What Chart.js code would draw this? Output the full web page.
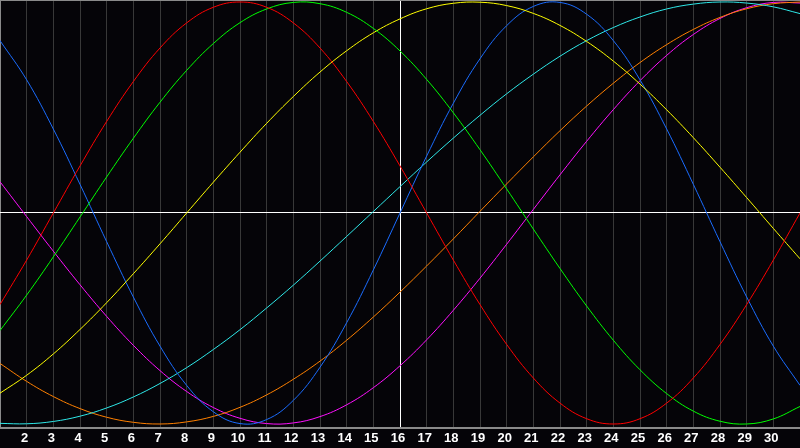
<!DOCTYPE html>
<html>
<head>
<meta charset="utf-8">
<script src="https://cdn.jsdelivr.net/npm/chart.js@4/dist/chart.umd.min.js"></script>
<style>
  html, body { margin: 0; padding: 0; background: #050408; }
  #wrap { width: 800px; height: 448px; position: relative; }
</style>
</head>
<body>
<div id="wrap"><canvas id="c"></canvas></div>
<script>
const days = [1,2,3,4,5,6,7,8,9,10,11,12,13,14,15,16,17,18,19,20,21,22,23,24,25,26,27,28,29,30,31];
const today = 16;

const redValues = [-0.434,-0.223,0,0.223,0.434,0.623,0.782,0.901,0.975,1,0.975,0.901,0.782,0.623,0.434,0.223,0,-0.223,-0.434,-0.623,-0.782,-0.901,-0.975,-1,-0.975,-0.901,-0.782,-0.623,-0.434,-0.223,0];
const greenValues = [-0.557,-0.389,-0.208,-0.019,0.171,0.354,0.525,0.676,0.803,0.902,0.967,0.998,0.992,0.951,0.875,0.768,0.633,0.475,0.300,0.114,-0.076,-0.263,-0.441,-0.603,-0.743,-0.856,-0.939,-0.987,-1.000,-0.976,-0.917];
const yellowValues = [-0.854,-0.769,-0.668,-0.552,-0.425,-0.288,-0.146,0,0.146,0.288,0.425,0.552,0.668,0.769,0.854,0.920,0.968,0.994,0.999,0.983,0.946,0.889,0.813,0.720,0.611,0.489,0.357,0.217,0.073,-0.073,-0.217];
const blueValues = [0.817,0.631,0.398,0.136,-0.136,-0.398,-0.631,-0.817,-0.942,-0.998,-0.979,-0.888,-0.731,-0.520,-0.270,0,0.270,0.520,0.731,0.888,0.979,0.998,0.942,0.817,0.631,0.398,0.136,-0.136,-0.398,-0.631,-0.817];
const cyanValues = [-0.997,-0.999,-0.988,-0.963,-0.924,-0.872,-0.808,-0.733,-0.647,-0.553,-0.450,-0.342,-0.228,-0.111,0.007,0.125,0.242,0.355,0.463,0.565,0.658,0.743,0.817,0.879,0.929,0.967,0.990,1.000,0.995,0.977,0.945];
const orangeValues = [-0.713,-0.798,-0.870,-0.927,-0.968,-0.992,-1.000,-0.990,-0.964,-0.921,-0.862,-0.788,-0.702,-0.603,-0.493,-0.375,-0.251,-0.123,0.008,0.138,0.266,0.390,0.507,0.615,0.713,0.798,0.870,0.927,0.968,0.992,1.000];
const magentaValues = [0.148,-0.017,-0.181,-0.340,-0.490,-0.627,-0.747,-0.846,-0.922,-0.973,-0.998,-0.995,-0.965,-0.909,-0.828,-0.724,-0.601,-0.461,-0.309,-0.148,0.017,0.181,0.340,0.490,0.627,0.747,0.846,0.922,0.973,0.998,0.995];

const seriesNames = ['red','green','yellow','blue','cyan','orange','magenta'];
const seriesColors = ['#ff0000','#00ff00','#ffff00','#1a6cff','#2ee8e8','#ff8000','#ff10ff'];
const seriesValues = [redValues, greenValues, yellowValues, blueValues, cyanValues, orangeValues, magentaValues];

const datasets = seriesValues.map((vals, i) => ({
  label: seriesNames[i],
  data: days.map((d, j) => ({ x: d, y: vals[j] })),
  borderColor: seriesColors[i],
  borderWidth: 1,
  pointRadius: 0,
  tension: 0.4,
  fill: false
}));

const bgPlugin = {
  id: 'bg',
  beforeDraw(chart) {
    const ctx = chart.ctx;
    ctx.save();
    ctx.fillStyle = '#050408';
    ctx.fillRect(0, 0, chart.width, chart.height);
    ctx.restore();
  }
};

new Chart(document.getElementById('c'), {
  type: 'line',
  data: { datasets },
  plugins: [bgPlugin],
  options: {
    responsive: true,
    maintainAspectRatio: false,
    animation: false,
    layout: { padding: 0 },
    plugins: { legend: { display: false }, tooltip: { enabled: false } },
    scales: {
      x: {
        type: 'linear',
        min: days[0],
        max: days[days.length - 1],
        border: { display: true, color: '#8a8a8a', width: 2 },
        grid: {
          drawTicks: false,
          lineWidth: 1,
          color: (c) => c.tick && c.tick.value === today ? '#ffffff' : (c.tick && c.tick.value === days[0] ? '#8a8a8a' : '#383838')
        },
        afterBuildTicks: (axis) => { axis.ticks = days.map(d => ({ value: d })); },
        afterFit: (axis) => { axis.height = 20; axis.paddingLeft = 0; axis.paddingRight = 0; },
        ticks: {
          autoSkip: false,
          maxRotation: 0,
          padding: 3,
          labelOffset: -2,
          color: '#ffffff',
          font: { family: 'Liberation Sans', size: 13, weight: 'bold' },
          callback: (v) => (v > days[0] && v < days[days.length - 1]) ? String(v) : ''
        }
      },
      y: {
        type: 'linear',
        min: -1.019,
        max: 1.0095,
        border: { display: false },
        grid: {
          drawTicks: false,
          lineWidth: 1,
          color: (c) => c.tick && c.tick.value === 0 ? '#ffffff' : '#8a8a8a'
        },
        afterBuildTicks: (axis) => { axis.ticks = [{ value: 0 }, { value: 1.0095 }]; },
        afterFit: (axis) => { axis.width = 0; axis.paddingTop = 0; axis.paddingBottom = 0; },
        ticks: { display: false }
      }
    }
  }
});
</script>
</body>
</html>
